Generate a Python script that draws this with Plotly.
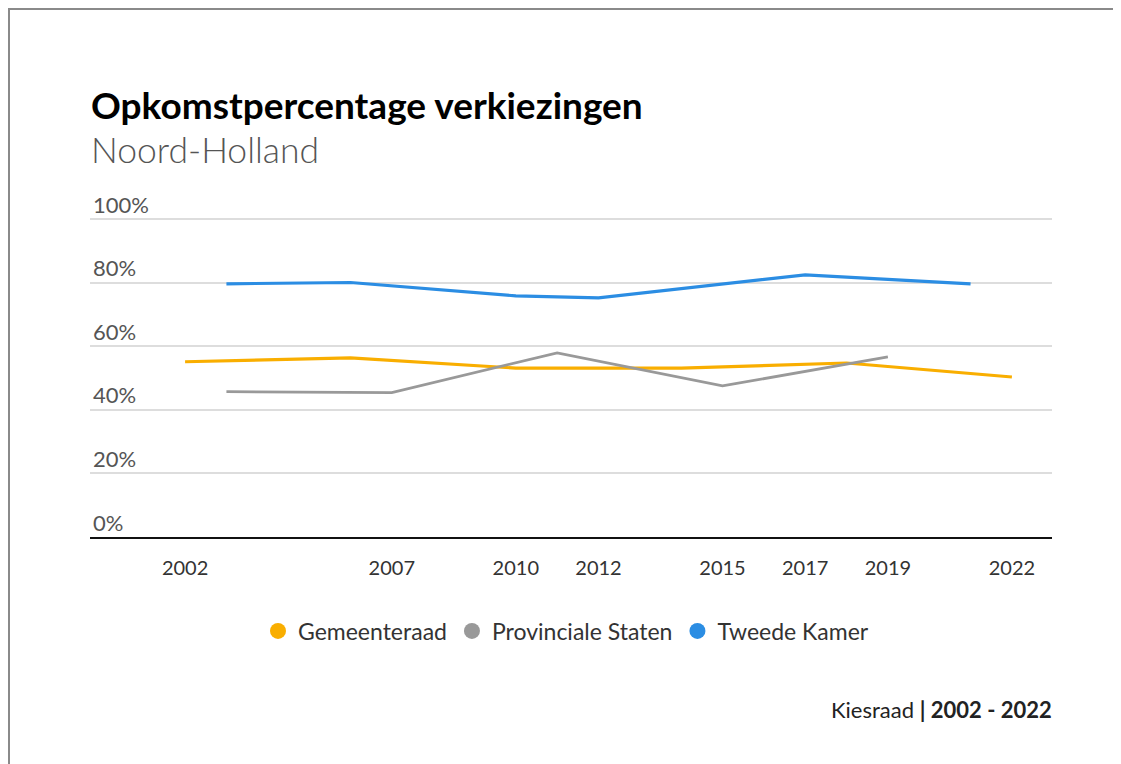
import plotly.graph_objects as go

# ---- data ----
gr_years = [2002, 2006, 2010, 2014, 2018, 2022]
gr_values = [55.1, 56.3, 53.1, 53.1, 54.7, 50.3]

ps_years = [2003, 2007, 2011, 2015, 2019]
ps_values = [45.7, 45.4, 57.9, 47.5, 56.6]

tk_years = [2003, 2006, 2010, 2012, 2017, 2021]
tk_values = [79.6, 80.0, 75.8, 75.2, 82.4, 79.6]

series_names = ["Gemeenteraad", "Provinciale Staten", "Tweede Kamer"]
series_colors = ["#F9AE00", "#999999", "#2B8DE3"]

x_ticks = [2002, 2007, 2010, 2012, 2015, 2017, 2019, 2022]
y_ticks = [0, 20, 40, 60, 80, 100]
y_ticktext = ["0%", "20%", "40%", "60%", "80%", "100%"]

OFF = 8  # page body margin
W, H = 1113, 756
L, R, T, B = 82, 69, 195, 227
plot_h = H - T - B
plot_w = W - L - R


def px(x):
    return (x - OFF - L) / plot_w


def py(y):
    return (H - B - (y - OFF)) / plot_h


FONT = "Lato"

fig = go.Figure()
data = [(gr_years, gr_values), (ps_years, ps_values), (tk_years, tk_values)]
widths = [3.2, 2.8, 3.2]
for (xs, ys), name, col, w in zip(data, series_names, series_colors, widths):
    fig.add_trace(go.Scatter(x=xs, y=ys, mode="lines", name=name,
                             line=dict(color=col, width=w), showlegend=False,
                             hovertemplate="%{x}: %{y:.1f}%<extra>" + name + "</extra>"))
for name, col in zip(series_names, series_colors):
    fig.add_trace(go.Scatter(x=[None], y=[None], mode="markers", name=name,
                             marker=dict(color=col, size=22, symbol="circle"),
                             showlegend=True))

fig.update_layout(
    width=W, height=H,
    margin=dict(l=L, r=R, t=T, b=B),
    paper_bgcolor="white", plot_bgcolor="white",
    font=dict(family=FONT, color="#333333"),
    showlegend=True,
    legend=dict(orientation="h", x=px(566), xanchor="center", y=py(631), yanchor="middle",
                font=dict(size=23, color="#333333", family=FONT),
                itemclick=False, itemdoubleclick=False),
    xaxis=dict(range=[1999.70, 2022.97], tickvals=x_ticks, ticktext=[str(v) for v in x_ticks],
               showgrid=False, zeroline=False, showline=True, linecolor="#111111", linewidth=2,
               ticks="", ticklabelstandoff=12,
               tickfont=dict(size=20, color="#333333", family=FONT)),
    yaxis=dict(range=[0, 105], tickvals=y_ticks, ticktext=y_ticktext,
               showgrid=True, gridcolor="#DDDDDD", gridwidth=2, zeroline=False,
               showline=False, ticks="", ticklabelposition="inside",
               ticklabeloverflow="allow",
               ticklabelshift=-14, ticklabelstandoff=0,
               tickfont=dict(size=22, color="#555555", family=FONT)),
)

fig.add_annotation(text="<b>Opkomstpercentage verkiezingen</b>", xref="paper", yref="paper",
                   x=px(89), y=py(104), xanchor="left", yanchor="middle", showarrow=False,
                   font=dict(size=37, color="#000000", family=FONT))
fig.add_annotation(text="Noord-Holland", xref="paper", yref="paper",
                   x=px(89), y=py(149), xanchor="left", yanchor="middle", showarrow=False,
                   font=dict(size=35.5, color="#555555", family=FONT, weight=300))
fig.add_annotation(text="Kiesraad <b>| 2002 - 2022</b>", xref="paper", yref="paper",
                   x=px(1054), y=py(709), xanchor="right", yanchor="middle", showarrow=False,
                   font=dict(size=22, color="#222222", family=FONT))

fig.add_shape(type="rect", xref="paper", yref="paper",
              x0=px(9), x1=px(1118), y0=py(800), y1=py(9),
              line=dict(color="#8A8A8A", width=2), fillcolor="rgba(0,0,0,0)", layer="below")

fig.write_html("out.html")
